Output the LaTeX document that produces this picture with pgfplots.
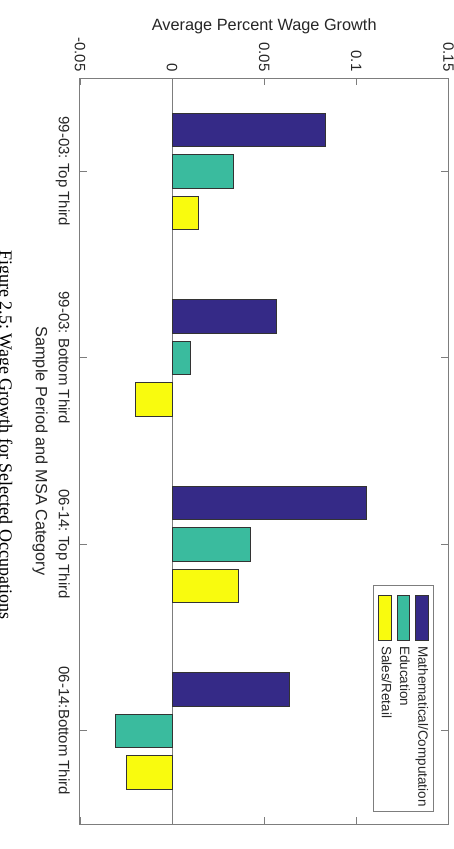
\documentclass[border=0pt]{standalone}
\usepackage{fontspec}
\setmainfont{Liberation Sans}
\newfontfamily\capfont{Liberation Serif}
\usepackage{graphicx}
\usepackage{pgfplots}
\pgfplotsset{compat=1.18}
\frenchspacing
\definecolor{cMath}{RGB}{53,42,135}
\definecolor{cEdu}{RGB}{58,187,158}
\definecolor{cSal}{RGB}{249,251,14}
\definecolor{axgray}{RGB}{125,125,125}
\definecolor{txt}{RGB}{38,38,38}
\newcommand\legrot[1]{\rotatebox{-90}{\rule[-2.8bp]{0pt}{12.7bp}#1}}
\pgfplotsset{
  mylegend/.style={legend image code/.code={\path (0bp,-160.6bp) (0bp,55bp); \draw[##1, overlay] (0bp,5bp) rectangle (12.7bp,50bp);}},
}
\begin{document}
\begin{tikzpicture}
\useasboundingbox (-80bp,-25bp) rectangle (374bp,824bp);
\begin{axis}[
  scale only axis, width=368.5bp, height=746bp,
  at={(0,0)}, anchor=south west,
  xbar, bar width=33.5bp,
  xmin=-0.05, xmax=0.15,
  ymin=0.5, ymax=4.5, y dir=reverse,
  xtick={-0.05,0,0.05,0.1,0.15},
  xticklabels={-0.05,0,0.05,0.1,0.15},
  scaled x ticks=false,
  xticklabel pos=upper,
  xtick pos=both, ytick pos=both,
  ytick={1,2,3,4},
  yticklabels={99-03: Top Third,99-03: Bottom Third,06-14: Top Third,06-14:Bottom Third},
  tick align=inside,
  major tick length=7bp,
  tick style={axgray, line width=0.8bp},
  axis line style={axgray, line width=1bp},
  xticklabel style={font=\fontsize{15bp}{18bp}\selectfont, text=txt, yshift=6.3bp, rotate=-90, anchor=east, inner sep=0pt},
  yticklabel style={font=\fontsize{15bp}{18bp}\selectfont, text=txt, xshift=-10bp, rotate=-90, anchor=north, inner sep=0pt},
  ylabel={Sample Period and MSA Category},
  every axis y label/.style={at={(axis description cs:-0.08684,0.5)}, rotate=-90, anchor=north, inner sep=0pt, font=\fontsize{16.3bp}{19bp}\selectfont, text=txt},
  title={Average Percent Wage Growth},
  every axis title/.style={at={(axis description cs:0.5,1)}, anchor=base, yshift=48bp, inner sep=0pt, font=\fontsize{16.3bp}{19bp}\selectfont, text=txt},
  extra x ticks={0},
  extra x tick labels={},
  extra x tick style={grid=major, major grid style={axgray, line width=0.8bp}},
  legend columns=3,
  reverse legend,
  legend style={at={(axis description cs:0.9606,0.3204)}, anchor=north east,
    draw=axgray, line width=0.8bp, font=\fontsize{13.5bp}{16bp}\selectfont, text=txt,
    inner xsep=5.3bp, inner ysep=5bp,
    column sep=0pt,
    /tikz/every even column/.append style={column sep=4.9bp},
    nodes={inner sep=0pt, anchor=north west}},
]
\addplot[mylegend, fill=cMath, draw=black!80, line width=0.7bp, bar shift=41.5bp]
  coordinates {(0.0833,1) (0.0564,2) (0.1052,3) (0.0634,4)};
\addplot[mylegend, fill=cEdu, draw=black!80, line width=0.7bp, bar shift=0bp]
  coordinates {(0.0333,1) (0.0101,2) (0.0423,3) (-0.0309,4)};
\addplot[mylegend, fill=cSal, draw=black!80, line width=0.7bp, bar shift=-41.5bp]
  coordinates {(0.0143,1) (-0.0199,2) (0.0360,3) (-0.0248,4)};
\legend{\legrot{Mathematical/Computation},\legrot{Education},\legrot{Sales/Retail}}
\end{axis}
\node[rotate=-90, anchor=base west, inner sep=0pt, font=\capfont\fontsize{18bp}{21bp}\selectfont] at (-80bp,574bp) {Figure 2.5: Wage Growth for Selected Occupations};
\end{tikzpicture}
\end{document}
